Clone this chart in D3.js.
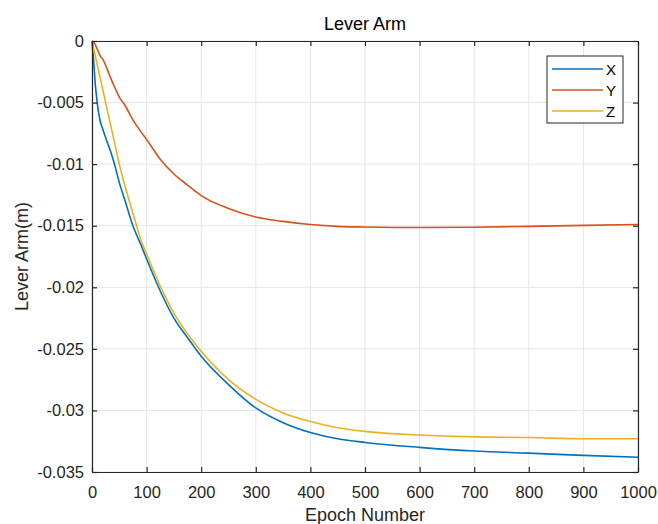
<!DOCTYPE html>
<html>
<head>
<meta charset="utf-8">
<script src="https://cdn.jsdelivr.net/npm/d3@7"></script>
<style>
  body { margin: 0; background: #fff; }
  text { font-family: "Liberation Sans", Arial, sans-serif; fill: #262626; }
</style>
</head>
<body>
<svg id="chart" width="658" height="524"></svg>
<script>
// values
var epochs = [0, 3, 6, 9, 12, 15, 20, 27, 35, 43, 50, 60, 75, 90, 100, 125, 150, 175, 200, 250, 300, 350, 400, 450, 500, 600, 700, 800, 900, 1000];
var xArm = [0, -0.0016, -0.0035, -0.0048, -0.0058, -0.0065, -0.0072, -0.0081, -0.0091, -0.0103, -0.0115, -0.0129, -0.0150, -0.0166, -0.0177, -0.0203, -0.0225, -0.0241, -0.0256, -0.0279, -0.0298, -0.0310, -0.0318, -0.0323, -0.0326, -0.0330, -0.0333, -0.03347, -0.03365, -0.0338];
var yArm = [0, -0.0001, -0.0003, -0.0006, -0.0009, -0.0012, -0.0015, -0.0022, -0.0031, -0.0039, -0.00455, -0.0052, -0.0064, -0.0074, -0.0080, -0.0096, -0.0108, -0.0117, -0.01255, -0.0136, -0.0143, -0.01465, -0.0149, -0.01505, -0.0151, -0.01515, -0.01512, -0.01505, -0.01497, -0.0149];
var zArm = [0, -0.0006, -0.0012, -0.0018, -0.0024, -0.0030, -0.0040, -0.0054, -0.0070, -0.0086, -0.0100, -0.0117, -0.0140, -0.0162, -0.0173, -0.0199, -0.0221, -0.0238, -0.0252, -0.0275, -0.0291, -0.0302, -0.0309, -0.0314, -0.0317, -0.0320, -0.03215, -0.0322, -0.0323, -0.0323];
var seriesNames = ["X", "Y", "Z"];
var xTicks = [0, 100, 200, 300, 400, 500, 600, 700, 800, 900, 1000];
var yTicks = [0, -0.005, -0.01, -0.015, -0.02, -0.025, -0.03, -0.035];

var colors = ["#0072BD", "#D95319", "#EDB120"];
var margin = {left: 92, right: 20, top: 41, bottom: 52};
var width = 658, height = 524;

var svg = d3.select("#chart");

var x = d3.scaleLinear().domain([0, 1000]).range([margin.left, width - margin.right]);
var y = d3.scaleLinear().domain([-0.035, 0]).range([height - margin.bottom, margin.top]);

// grid
var grid = svg.append("g");
grid.selectAll("line.gx").data(xTicks).enter().append("line")
    .attr("x1", function(d) { return x(d); }).attr("x2", function(d) { return x(d); })
    .attr("y1", y(0)).attr("y2", y(-0.035))
    .attr("stroke", "#e6e6e6").attr("stroke-width", 1);
grid.selectAll("line.gy").data(yTicks).enter().append("line")
    .attr("y1", function(d) { return y(d); }).attr("y2", function(d) { return y(d); })
    .attr("x1", x(0)).attr("x2", x(1000))
    .attr("stroke", "#e6e6e6").attr("stroke-width", 1);

// lines
var data = [xArm, yArm, zArm];
var line = d3.line()
    .x(function(d, i) { return x(epochs[i]); })
    .y(function(d) { return y(d); })
    .curve(d3.curveMonotoneX);

svg.append("g").selectAll("path").data(data).enter().append("path")
    .attr("d", line)
    .attr("fill", "none")
    .attr("stroke", function(d, i) { return colors[i]; })
    .attr("stroke-width", 1.6);

// axes (ticks inside)
function fmt(d) { return d === 0 ? "0" : String(d); }
var axB = svg.append("g").attr("transform", "translate(0," + y(-0.035) + ")")
    .call(d3.axisBottom(x).tickValues(xTicks).tickSizeInner(-5).tickSizeOuter(0).tickPadding(14).tickFormat(fmt));
var axT = svg.append("g").attr("transform", "translate(0," + y(0) + ")")
    .call(d3.axisTop(x).tickValues(xTicks).tickSizeInner(-5).tickSizeOuter(0).tickFormat(""));
var axL = svg.append("g").attr("transform", "translate(" + x(0) + ",0)")
    .call(d3.axisLeft(y).tickValues(yTicks).tickSizeInner(-5).tickSizeOuter(0).tickPadding(8).tickFormat(fmt));
var axR = svg.append("g").attr("transform", "translate(" + x(1000) + ",0)")
    .call(d3.axisRight(y).tickValues(yTicks).tickSizeInner(-5).tickSizeOuter(0).tickFormat(""));

[axB, axT, axL, axR].forEach(function(a) {
    a.select(".domain").attr("stroke", "#262626").attr("stroke-width", 1.2);
    a.selectAll(".tick line").attr("stroke", "#262626").attr("stroke-width", 1.2);
    a.selectAll(".tick text").attr("font-size", "16.5px").attr("fill", "#262626")
        .attr("font-family", "'Liberation Sans', Arial, sans-serif");
});

// titles
svg.append("text").attr("x", (x(0) + x(1000)) / 2).attr("y", 30)
    .attr("text-anchor", "middle").attr("font-size", "18px").style("fill", "#000")
    .text("Lever Arm");
svg.append("text").attr("x", (x(0) + x(1000)) / 2).attr("y", 521)
    .attr("text-anchor", "middle").attr("font-size", "18px")
    .text("Epoch Number");
svg.append("text").attr("transform", "translate(28," + (y(-0.0175)) + ") rotate(-90)")
    .attr("text-anchor", "middle").attr("font-size", "18px")
    .text("Lever Arm(m)");

// legend
var lg = svg.append("g").attr("transform", "translate(547,56)");
lg.append("rect").attr("width", 76).attr("height", 67)
    .attr("fill", "#fff").attr("stroke", "#262626").attr("stroke-width", 1);
seriesNames.forEach(function(n, i) {
    var yy = 13 + i * 21;
    lg.append("line").attr("x1", 5).attr("x2", 56).attr("y1", yy).attr("y2", yy)
        .attr("stroke", colors[i]).attr("stroke-width", 1.6);
    lg.append("text").attr("x", 59).attr("y", yy + 5.5).attr("font-size", "15px").style("fill", "#000").text(n);
});
</script>
</body>
</html>
